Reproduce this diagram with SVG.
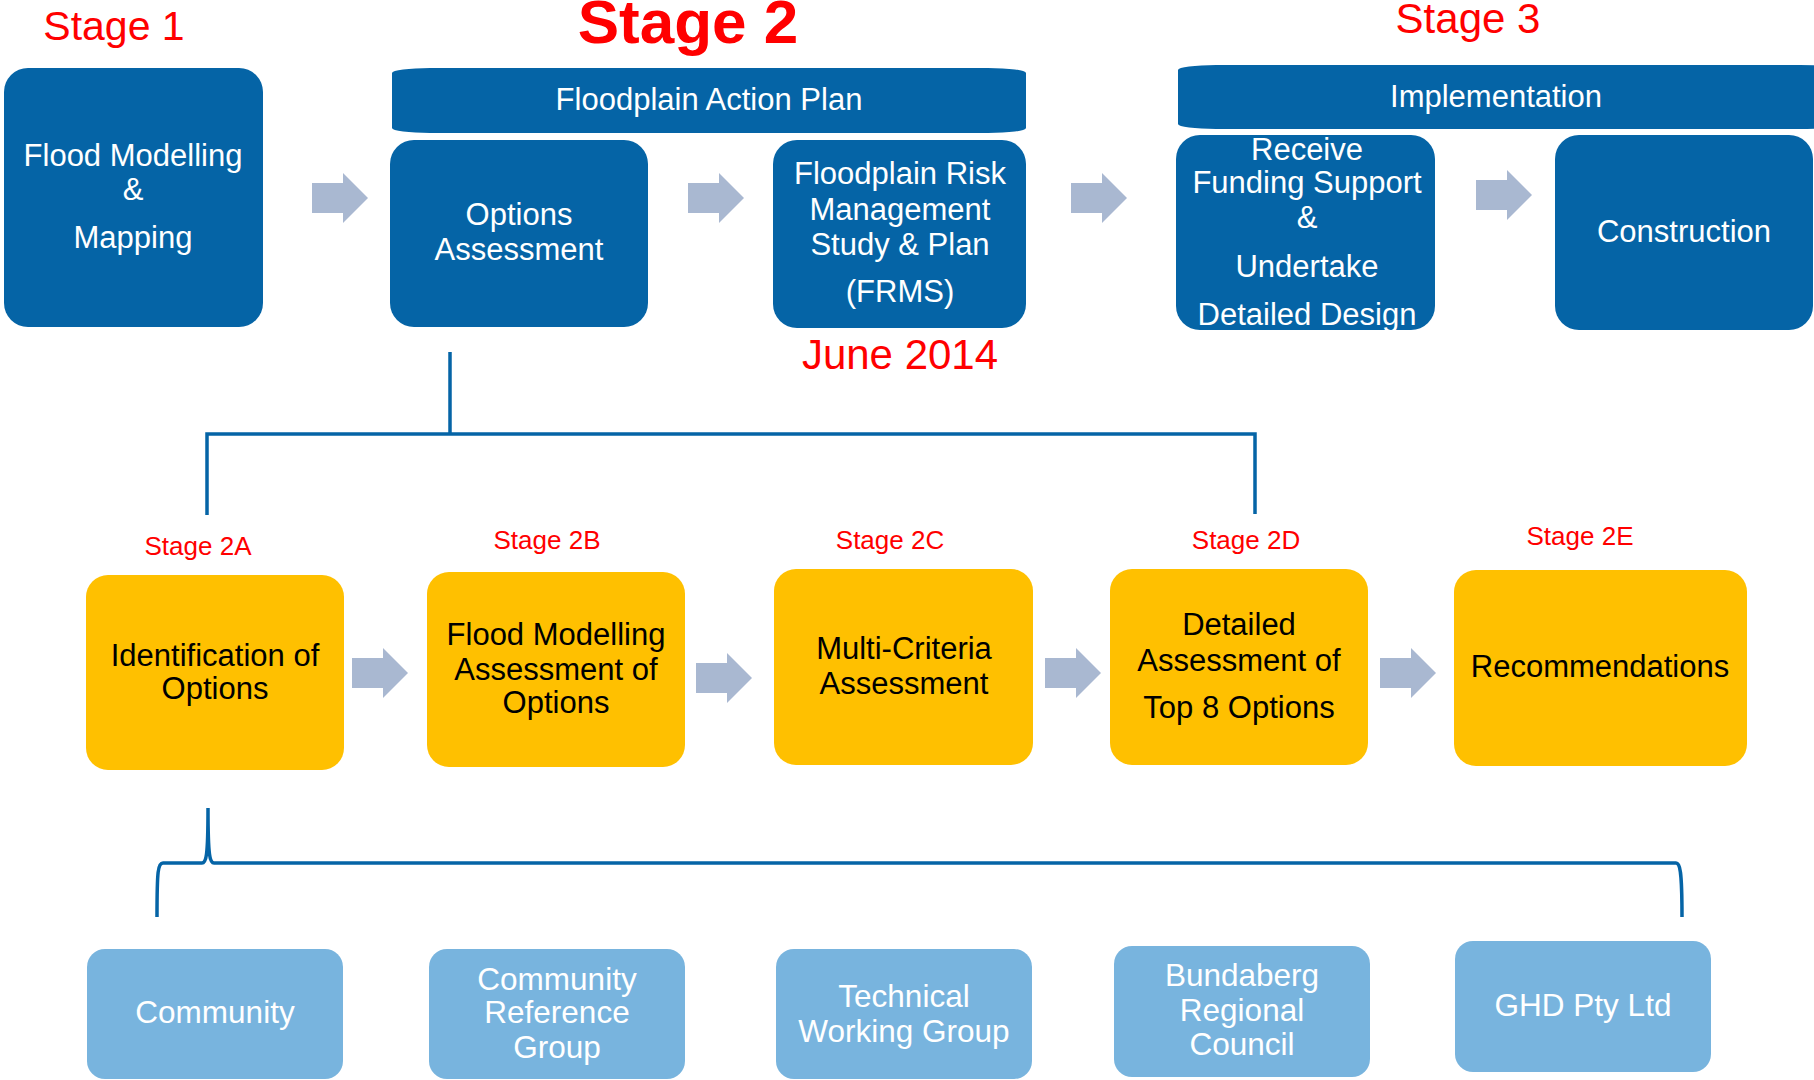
<svg xmlns="http://www.w3.org/2000/svg" xmlns:xlink="http://www.w3.org/1999/xlink" width="1814" height="1080" viewBox="0 0 1814 1080">
<style>
.dark{fill:#0564A6}
.yel{fill:#FFC000}
.lb{fill:#78B4DE}
.wt{font-family:"Liberation Sans",Arial,sans-serif;font-size:31px;fill:#FFFFFF;text-anchor:middle}
.bt{font-family:"Liberation Sans",Arial,sans-serif;font-size:31px;fill:#000000;text-anchor:middle}
.lt{font-family:"Liberation Sans",Arial,sans-serif;font-size:31.5px;fill:#FFFFFF;text-anchor:middle}
.red{font-family:"Liberation Sans",Arial,sans-serif;fill:#FF0000;text-anchor:middle}
.sm{font-size:26px}
.arr{fill:#A9B8D1}
.con{fill:none;stroke:#0564A6;stroke-width:3.5}
</style>
<defs>
<path id="arrow" d="M0,-15 L31,-15 L31,-25 L56,0 L31,25 L31,15 L0,15 Z"/>
</defs>
<rect width="1814" height="1080" fill="#FFFFFF"/>

<g id="stage-labels">
<text class="red" x="114" y="40" font-size="41">Stage 1</text>
<text class="red" x="688" y="43" font-size="62" font-weight="bold">Stage 2</text>
<text class="red" x="1468" y="33" font-size="42">Stage 3</text>
<text class="red" x="900" y="369" font-size="42">June 2014</text>
<text class="red sm" x="198" y="555">Stage 2A</text>
<text class="red sm" x="547" y="549">Stage 2B</text>
<text class="red sm" x="890" y="549">Stage 2C</text>
<text class="red sm" x="1246" y="549">Stage 2D</text>
<text class="red sm" x="1580" y="545">Stage 2E</text>
</g>

<g id="connectors">
<path class="con" d="M450,352 L450,434 M207,515 L207,434 L1255,434 L1255,514"/>
<path class="con" d="M157,917 C157,870 158,863 163,863 L202,863 C206,863 208,858 208,808 C208,858 210,863 214,863 L1676,863 C1680,863 1682,870 1682,917"/>
<g class="arr">
<use xlink:href="#arrow" x="312" y="198"/>
<use xlink:href="#arrow" x="688" y="198"/>
<use xlink:href="#arrow" x="1071" y="198"/>
<use xlink:href="#arrow" x="1476" y="195"/>
<use xlink:href="#arrow" x="352" y="673"/>
<use xlink:href="#arrow" x="696" y="678"/>
<use xlink:href="#arrow" x="1045" y="673"/>
<use xlink:href="#arrow" x="1380" y="673"/>
</g>
</g>

<g id="stage1-flood-modelling">
<rect class="dark" x="4" y="68" width="259" height="259" rx="24"/>
<text class="wt" x="133" y="166">Flood Modelling</text>
<text class="wt" x="133" y="200">&amp;</text>
<text class="wt" x="133" y="248">Mapping</text>
</g>

<g id="floodplain-action-plan">
<rect class="dark" x="392" y="68" width="634" height="65" rx="38" ry="5"/>
<text class="wt" x="709" y="110">Floodplain Action Plan</text>
</g>

<g id="options-assessment">
<rect class="dark" x="390" y="140" width="258" height="187" rx="24"/>
<text class="wt" x="519" y="225">Options</text>
<text class="wt" x="519" y="260">Assessment</text>
</g>

<g id="frms">
<rect class="dark" x="773" y="140" width="253" height="188" rx="24"/>
<text class="wt" x="900" y="184">Floodplain Risk</text>
<text class="wt" x="900" y="220">Management</text>
<text class="wt" x="900" y="255">Study &amp; Plan</text>
<text class="wt" x="900" y="302">(FRMS)</text>
</g>

<g id="implementation">
<rect class="dark" x="1178" y="65" width="660" height="64" rx="38" ry="5"/>
<text class="wt" x="1496" y="107">Implementation</text>
</g>

<g id="receive-funding">
<rect class="dark" x="1176" y="135" width="259" height="195" rx="24"/>
<text class="wt" x="1307" y="160">Receive</text>
<text class="wt" x="1307" y="193">Funding Support</text>
<text class="wt" x="1307" y="228">&amp;</text>
<text class="wt" x="1307" y="277">Undertake</text>
<text class="wt" x="1307" y="325">Detailed Design</text>
</g>

<g id="construction">
<rect class="dark" x="1555" y="135" width="258" height="195" rx="24"/>
<text class="wt" x="1684" y="242">Construction</text>
</g>

<g id="stage-2a">
<rect class="yel" x="86" y="575" width="258" height="195" rx="22"/>
<text class="bt" x="215" y="666">Identification of</text>
<text class="bt" x="215" y="699">Options</text>
</g>

<g id="stage-2b">
<rect class="yel" x="427" y="572" width="258" height="195" rx="22"/>
<text class="bt" x="556" y="645">Flood Modelling</text>
<text class="bt" x="556" y="680">Assessment of</text>
<text class="bt" x="556" y="713">Options</text>
</g>

<g id="stage-2c">
<rect class="yel" x="774" y="569" width="259" height="196" rx="22"/>
<text class="bt" x="904" y="659">Multi-Criteria</text>
<text class="bt" x="904" y="694">Assessment</text>
</g>

<g id="stage-2d">
<rect class="yel" x="1110" y="569" width="258" height="196" rx="22"/>
<text class="bt" x="1239" y="635">Detailed</text>
<text class="bt" x="1239" y="671">Assessment of</text>
<text class="bt" x="1239" y="718">Top 8 Options</text>
</g>

<g id="stage-2e">
<rect class="yel" x="1454" y="570" width="293" height="196" rx="22"/>
<text class="bt" x="1600" y="677">Recommendations</text>
</g>

<g id="community">
<rect class="lb" x="87" y="949" width="256" height="130" rx="18"/>
<text class="lt" x="215" y="1023">Community</text>
</g>

<g id="community-reference-group">
<rect class="lb" x="429" y="949" width="256" height="130" rx="18"/>
<text class="lt" x="557" y="990">Community</text>
<text class="lt" x="557" y="1023">Reference</text>
<text class="lt" x="557" y="1058">Group</text>
</g>

<g id="technical-working-group">
<rect class="lb" x="776" y="949" width="256" height="130" rx="18"/>
<text class="lt" x="904" y="1007">Technical</text>
<text class="lt" x="904" y="1042">Working Group</text>
</g>

<g id="bundaberg-regional-council">
<rect class="lb" x="1114" y="946" width="256" height="131" rx="18"/>
<text class="lt" x="1242" y="986">Bundaberg</text>
<text class="lt" x="1242" y="1021">Regional</text>
<text class="lt" x="1242" y="1055">Council</text>
</g>

<g id="ghd">
<rect class="lb" x="1455" y="941" width="256" height="131" rx="18"/>
<text class="lt" x="1583" y="1016">GHD Pty Ltd</text>
</g>
</svg>
